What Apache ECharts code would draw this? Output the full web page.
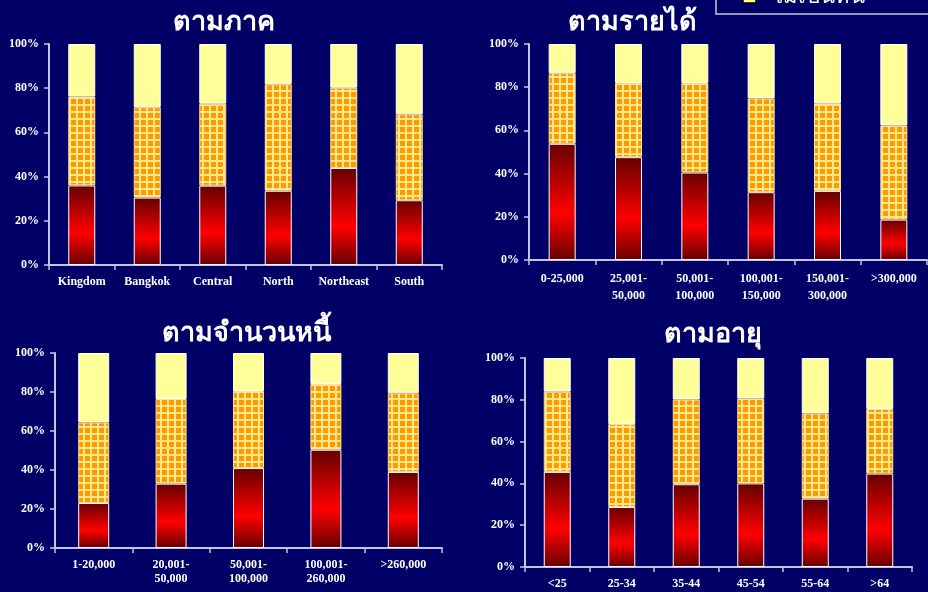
<!DOCTYPE html>
<html><head><meta charset="utf-8">
<script src="https://cdn.jsdelivr.net/npm/echarts@6/dist/echarts.min.js"></script>
<style>html,body{margin:0;padding:0;background:#000066;}#c{width:928px;height:592px;}</style>
</head><body><div id="c"></div>
<script>
var regionCats = ['Kingdom','Bangkok','Central','North','Northeast','South'];
var regionRed = [36.0, 30.5, 35.9, 33.6, 43.9, 29.3];
var regionOrange = [40.2, 40.9, 37.1, 48.2, 36.3, 38.9];
var regionYellow = [23.8, 28.6, 27.0, 18.2, 19.8, 31.8];

var incomeCats = ['0-25,000','25,001-\n50,000','50,001-\n100,000','100,001-\n150,000','150,001-\n300,000','>300,000'];
var incomeRed = [53.8, 47.6, 40.5, 31.4, 32.0, 18.7];
var incomeOrange = [32.7, 34.3, 41.4, 43.4, 40.6, 43.6];
var incomeYellow = [13.5, 18.1, 18.1, 25.2, 27.4, 37.7];

var debtCats = ['1-20,000','20,001-\n50,000','50,001-\n100,000','100,001-\n260,000','>260,000'];
var debtRed = [23.1, 33.0, 41.0, 50.4, 39.0];
var debtOrange = [41.3, 43.4, 39.5, 33.7, 40.3];
var debtYellow = [35.6, 23.6, 19.5, 15.9, 20.7];

var ageCats = ['<25','25-34','35-44','45-54','55-64','>64'];
var ageRed = [45.5, 28.7, 39.6, 40.0, 32.7, 44.7];
var ageOrange = [38.4, 39.7, 40.5, 40.6, 40.8, 30.9];
var ageYellow = [16.1, 31.6, 19.9, 19.4, 26.5, 24.4];

var panelTitles = ['ตามภาค','ตามรายได้','ตามจำนวนหนี้','ตามอายุ'];
var legendText = 'ไม่เป็นหนี้';
var yTickMin = 0, yTickMax = 100, yTickStep = 20;

var chart = echarts.init(document.getElementById('c'), null, {renderer:'canvas'});

// checkered pattern
var pc = document.createElement('canvas');
pc.width = 7; pc.height = 7;
var pctx = pc.getContext('2d');
pctx.fillStyle = '#ffe88a'; pctx.fillRect(0,0,7,7);
pctx.fillStyle = '#ff9900'; pctx.fillRect(1,1,5,5);

var redFill = new echarts.graphic.LinearGradient(0,0,0,1,[
  {offset:0,color:'#660000'},{offset:0.6,color:'#ff0000'},{offset:1,color:'#660000'}]);

var axisCol = '#c4c4e0';
var labelFont = {color:'#ffffff', fontFamily:'"Liberation Serif","Times New Roman",serif', fontWeight:'bold', fontSize:12};

var grids = [
  {left:49, right:486, top:44, bottom:327},
  {left:529, right:1, top:44, bottom:332},
  {left:55, right:486, top:353, bottom:44},
  {left:525, right:16, top:358, bottom:25}
];
var cats = [regionCats, incomeCats, debtCats, ageCats];
var reds = [regionRed, incomeRed, debtRed, ageRed];
var oranges = [regionOrange, incomeOrange, debtOrange, ageOrange];
var yellows = [regionYellow, incomeYellow, debtYellow, ageYellow];
var barWidths = [27, 27, 31, 27];
var labelLH = [14, 17, 14, 14];

var xAxes = [], yAxes = [], series = [];
for (var i = 0; i < 4; i++) {
  xAxes.push({type:'category', gridIndex:i, data:cats[i],
    axisLine:{lineStyle:{color:axisCol, width:2}},
    axisTick:{show:true, length:5, lineStyle:{color:axisCol, width:1.5}},
    axisLabel:Object.assign({margin:10, interval:0, lineHeight:labelLH[i]}, labelFont)});
  yAxes.push({type:'value', gridIndex:i, min:yTickMin, max:yTickMax, interval:yTickStep,
    axisLine:{show:true, lineStyle:{color:axisCol, width:2}},
    axisTick:{show:true, length:5, lineStyle:{color:axisCol, width:1.5}},
    splitLine:{show:false},
    axisLabel:Object.assign({margin:10, formatter:'{value}%'}, labelFont)});
  var st = 's'+i;
  series.push({type:'bar', xAxisIndex:i, yAxisIndex:i, stack:st, data:reds[i], barWidth:barWidths[i],
    itemStyle:{color:redFill, borderColor:'#ffffff', borderWidth:1}});
  series.push({type:'bar', xAxisIndex:i, yAxisIndex:i, stack:st, data:oranges[i], barWidth:barWidths[i],
    itemStyle:{color:{image:pc, repeat:'repeat'}, borderColor:'#ffe0a0', borderWidth:1}});
  series.push({type:'bar', xAxisIndex:i, yAxisIndex:i, stack:st, data:yellows[i], barWidth:barWidths[i],
    itemStyle:{color:'#ffff99', borderColor:'#ffffff', borderWidth:1}});
}

var titleStyle = {color:'#ffffff', fontSize:27, fontWeight:'bold', fontFamily:'sans-serif'};
var titlePos = [[219,4],[627,4],[241,315],[708,316]];
var titles = panelTitles.map(function(t, k){
  return {text:t, left:titlePos[k][0], top:titlePos[k][1], textAlign:'center', textStyle:titleStyle};
});

chart.setOption({
  backgroundColor:'#000066',
  animation:false,
  title:titles,
  grid:grids,
  xAxis:xAxes,
  yAxis:yAxes,
  series:series,
  graphic:[
    {type:'rect', shape:{x:716, y:-40, width:240, height:54}, style:{fill:'#000066', stroke:'#c8c8d8', lineWidth:1.5}, z:10},
    {type:'rect', shape:{x:743, y:-10, width:13, height:13}, style:{fill:'#ffff99', stroke:'#000000', lineWidth:1.5}, z:11},
    {type:'text', x:772, y:-14, style:{text:legendText, fill:'#ffffff', fontSize:22, fontFamily:'sans-serif'}, z:11}
  ]
});
</script></body></html>
